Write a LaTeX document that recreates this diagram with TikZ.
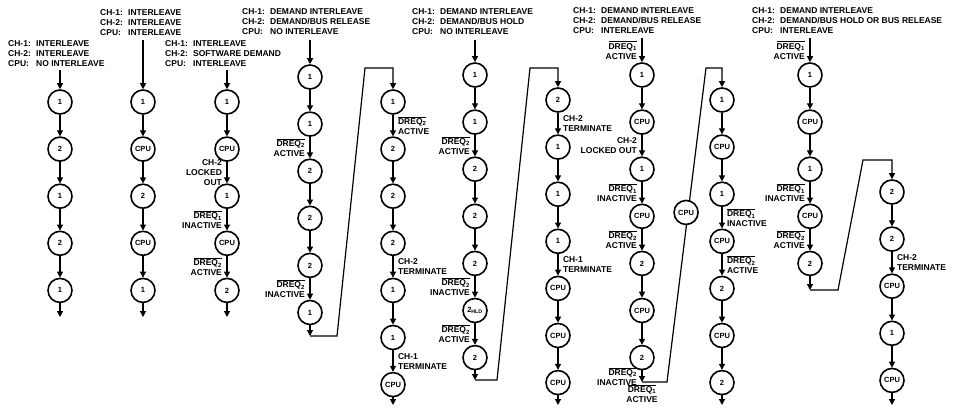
\documentclass[tikz,border=0pt]{standalone}
\usepackage{fontspec}
\setmainfont{Liberation Sans}
\usetikzlibrary{arrows.meta,positioning}

\newcommand{\dreq}[1]{$\overline{\hbox{DREQ\textsubscript{#1}}}$}
\newcommand{\hd}[1]{\makebox[28pt][l]{#1}}

\begin{document}
\begin{tikzpicture}[
  x=1pt, y=-1pt,
  node distance=21.5pt,
  circ/.style={circle, draw, line width=1.6pt, fill=white, minimum size=24pt,
               inner sep=0pt, font=\fontsize{7.5}{8}\selectfont\bfseries},
  head/.style={anchor=north west, inner sep=0pt, align=left,
               font=\fontsize{8.5}{10}\selectfont\bfseries},
  lbl/.style={inner ysep=2.5pt, inner xsep=4.5pt, font=\fontsize{8.5}{10}\selectfont\bfseries},
  flow/.style={->, line width=1.2pt},
  >={Triangle[length=6pt,width=6pt]}
]
  \useasboundingbox (0,0) rectangle (954,408);

  % interleave modes
  \node[head] (headA) at (8,40) {\hd{CH-1:}INTERLEAVE\\\hd{CH-2:}INTERLEAVE\\\hd{CPU:}NO INTERLEAVE};
  \coordinate (a0) at (60,70);
  \node[circ] (a1) at (60,102) {1};
  \node[circ, below=of a1] (a2) {2};
  \node[circ, below=of a2] (a3) {1};
  \node[circ, below=of a3] (a4) {2};
  \node[circ, below=of a4] (a5) {1};
  \coordinate (a6) at (60,317);
  \draw[flow] (a0) -- (a1);
  \draw[flow] (a1) -- (a2);
  \draw[flow] (a2) -- (a3);
  \draw[flow] (a3) -- (a4);
  \draw[flow] (a4) -- (a5);
  \draw[flow] (a5) -- (a6);

  \node[head] (headB) at (100,9) {\hd{CH-1:}INTERLEAVE\\\hd{CH-2:}INTERLEAVE\\\hd{CPU:}INTERLEAVE};
  \coordinate (b0) at (143,40);
  \node[circ] (b1) at (143,102) {1};
  \node[circ, below=of b1] (b2) {CPU};
  \node[circ, below=of b2] (b3) {2};
  \node[circ, below=of b3] (b4) {CPU};
  \node[circ, below=of b4] (b5) {1};
  \coordinate (b6) at (143,317);
  \draw[flow] (b0) -- (b1);
  \draw[flow] (b1) -- (b2);
  \draw[flow] (b2) -- (b3);
  \draw[flow] (b3) -- (b4);
  \draw[flow] (b4) -- (b5);
  \draw[flow] (b5) -- (b6);

  \node[head] (headC) at (165,40) {\hd{CH-1:}INTERLEAVE\\\hd{CH-2:}SOFTWARE DEMAND\\\hd{CPU:}INTERLEAVE};
  \coordinate (c0) at (227,70);
  \node[circ] (c1) at (227,102) {1};
  \node[circ, below=of c1] (c2) {CPU};
  \node[circ, below=of c2] (c3) {1};
  \node[circ, below=of c3] (c4) {CPU};
  \node[circ, below=of c4] (c5) {2};
  \coordinate (c6) at (227,317);
  \draw[flow] (c0) -- (c1);
  \draw[flow] (c1) -- (c2);
  \draw[flow] (c2) -- node[lbl, left, align=right]{CH-2\\LOCKED\\OUT} (c3);
  \draw[flow] (c3) -- node[lbl, left, align=right]{\dreq{1}\\INACTIVE} (c4);
  \draw[flow] (c4) -- node[lbl, left, align=right]{\dreq{2}\\ACTIVE} (c5);
  \draw[flow] (c5) -- (c6);

  % demand, bus release
  \node[head] (headD) at (242,8) {\hd{CH-1:}DEMAND INTERLEAVE\\\hd{CH-2:}DEMAND/BUS RELEASE\\\hd{CPU:}NO INTERLEAVE};
  \coordinate (d0) at (310,40);
  \node[circ] (d1) at (310,77) {1};
  \node[circ, below=of d1] (d2) {1};
  \node[circ, below=of d2] (d3) {2};
  \node[circ, below=of d3] (d4) {2};
  \node[circ, below=of d4] (d5) {2};
  \node[circ, below=of d5] (d6) {1};
  \coordinate (d7) at (310,336);
  \coordinate (dturn) at (337,336);
  \coordinate (dtop) at (365,68);
  \draw[flow] (d0) -- (d1);
  \draw[flow] (d1) -- (d2);
  \draw[flow] (d2) -- node[lbl, left, align=right]{\dreq{2}\\ACTIVE} (d3);
  \draw[flow] (d3) -- (d4);
  \draw[flow] (d4) -- (d5);
  \draw[flow] (d5) -- node[lbl, left, align=right]{\dreq{2}\\INACTIVE} (d6);
  \draw[flow] (d6) -- (d7);

  \node[circ] (e1) at (393,102) {1};
  \node[circ, below=of e1] (e2) {2};
  \node[circ, below=of e2] (e3) {2};
  \node[circ, below=of e3] (e4) {2};
  \node[circ, below=of e4] (e5) {1};
  \node[circ, below=of e5] (e6) {1};
  \node[circ, below=of e6] (e7) {CPU};
  \coordinate (e8) at (393,405);
  \draw[flow] (d7) -- (dturn) -- (dtop) -| (e1);
  \draw[flow] (e1) -- node[lbl, right, align=left]{\dreq{2}\\ACTIVE} (e2);
  \draw[flow] (e2) -- (e3);
  \draw[flow] (e3) -- (e4);
  \draw[flow] (e4) -- node[lbl, right, align=left]{CH-2\\TERMINATE} (e5);
  \draw[flow] (e5) -- (e6);
  \draw[flow] (e6) -- node[lbl, right, align=left]{CH-1\\TERMINATE} (e7);
  \draw[flow] (e7) -- (e8);

  % demand, bus hold
  \node[head] (headF) at (412,8) {\hd{CH-1:}DEMAND INTERLEAVE\\\hd{CH-2:}DEMAND/BUS HOLD\\\hd{CPU:}NO INTERLEAVE};
  \coordinate (f0) at (475,40);
  \node[circ] (f1) at (475,75) {1};
  \node[circ, below=of f1] (f2) {1};
  \node[circ, below=of f2] (f3) {2};
  \node[circ, below=of f3] (f4) {2};
  \node[circ, below=of f4] (f5) {2};
  \node[circ, below=of f5] (f6) {2\textsubscript{HLD}};
  \node[circ, below=of f6] (f7) {2};
  \coordinate (f8) at (475,380);
  \coordinate (fturn) at (497,380);
  \coordinate (ftop) at (530,68);
  \draw[flow] (f0) -- (f1);
  \draw[flow] (f1) -- (f2);
  \draw[flow] (f2) -- node[lbl, left, align=right]{\dreq{2}\\ACTIVE} (f3);
  \draw[flow] (f3) -- (f4);
  \draw[flow] (f4) -- (f5);
  \draw[flow] (f5) -- node[lbl, left, align=right]{\dreq{2}\\INACTIVE} (f6);
  \draw[flow] (f6) -- node[lbl, left, align=right]{\dreq{2}\\ACTIVE} (f7);
  \draw[flow] (f7) -- (f8);

  \node[circ] (g1) at (558,100) {2};
  \node[circ, below=of g1] (g2) {1};
  \node[circ, below=of g2] (g3) {1};
  \node[circ, below=of g3] (g4) {1};
  \node[circ, below=of g4] (g5) {CPU};
  \node[circ, below=of g5] (g6) {CPU};
  \node[circ, below=of g6] (g7) {CPU};
  \coordinate (g8) at (558,405);
  \draw[flow] (f8) -- (fturn) -- (ftop) -| (g1);
  \draw[flow] (g1) -- node[lbl, right, align=left]{CH-2\\TERMINATE} (g2);
  \draw[flow] (g2) -- (g3);
  \draw[flow] (g3) -- (g4);
  \draw[flow] (g4) -- node[lbl, right, align=left]{CH-1\\TERMINATE} (g5);
  \draw[flow] (g5) -- (g6);
  \draw[flow] (g6) -- (g7);
  \draw[flow] (g7) -- (g8);

  % demand with CPU interleave
  \node[head] (headH) at (573,7) {\hd{CH-1:}DEMAND INTERLEAVE\\\hd{CH-2:}DEMAND/BUS RELEASE\\\hd{CPU:}INTERLEAVE};
  \coordinate (h0) at (642,38);
  \node[circ] (h1) at (642,75) {1};
  \node[circ, below=of h1] (h2) {CPU};
  \node[circ, below=of h2] (h3) {1};
  \node[circ, below=of h3] (h4) {CPU};
  \node[circ, below=of h4] (h5) {2};
  \node[circ, below=of h5] (h6) {CPU};
  \node[circ, below=of h6] (h7) {2};
  \coordinate (h8) at (642,382);
  \coordinate (hturn) at (667,382);
  \coordinate (htop) at (706,68);
  \draw[flow] (h0) -- node[lbl, left, align=right]{\dreq{1}\\ACTIVE} (h1);
  \draw[flow] (h1) -- (h2);
  \draw[flow] (h2) -- node[lbl, left, align=right]{CH-2\\LOCKED OUT} (h3);
  \draw[flow] (h3) -- node[lbl, left, align=right]{\dreq{1}\\INACTIVE} (h4);
  \draw[flow] (h4) -- node[lbl, left, align=right]{\dreq{2}\\ACTIVE} (h5);
  \draw[flow] (h5) -- (h6);
  \draw[flow] (h6) -- (h7);
  \draw[flow] (h7) -- node[lbl, left, align=right]{\dreq{2}\\INACTIVE} (h8);
  \node[lbl, below=0pt of h8, align=center] (hnote) {\dreq{1}\\ACTIVE};

  \node[circ] (i1) at (722,100) {1};
  \node[circ, below=of i1] (i2) {CPU};
  \node[circ, below=of i2] (i3) {1};
  \node[circ, below=of i3] (i4) {CPU};
  \node[circ, below=of i4] (i5) {2};
  \node[circ, below=of i5] (i6) {CPU};
  \node[circ, below=of i6] (i7) {2};
  \coordinate (i8) at (722,405);
  \draw[flow] (h8) -- (hturn) -- node[circ, pos=0.54, xshift=-2pt] (hcpu) {CPU} (htop) -| (i1);
  \draw[flow] (i1) -- (i2);
  \draw[flow] (i2) -- (i3);
  \draw[flow] (i3) -- node[lbl, right, align=left]{\dreq{1}\\INACTIVE} (i4);
  \draw[flow] (i4) -- node[lbl, right, align=left]{\dreq{2}\\ACTIVE} (i5);
  \draw[flow] (i5) -- (i6);
  \draw[flow] (i6) -- (i7);
  \draw[flow] (i7) -- (i8);

  % demand, hold or release
  \node[head] (headJ) at (752,7) {\hd{CH-1:}DEMAND INTERLEAVE\\\hd{CH-2:}DEMAND/BUS HOLD OR BUS RELEASE\\\hd{CPU:}INTERLEAVE};
  \coordinate (j0) at (810,38);
  \node[circ] (j1) at (810,75) {1};
  \node[circ, below=of j1] (j2) {CPU};
  \node[circ, below=of j2] (j3) {1};
  \node[circ, below=of j3] (j4) {CPU};
  \node[circ, below=of j4] (j5) {2};
  \coordinate (j6) at (810,290);
  \coordinate (jturn) at (838,290);
  \coordinate (jtop) at (863,160);
  \draw[flow] (j0) -- node[lbl, left, align=right]{\dreq{1}\\ACTIVE} (j1);
  \draw[flow] (j1) -- (j2);
  \draw[flow] (j2) -- (j3);
  \draw[flow] (j3) -- node[lbl, left, align=right]{\dreq{1}\\INACTIVE} (j4);
  \draw[flow] (j4) -- node[lbl, left, align=right]{\dreq{2}\\ACTIVE} (j5);
  \draw[flow] (j5) -- (j6);

  \node[circ] (k1) at (892,192) {2};
  \node[circ, below=of k1] (k2) {2};
  \node[circ, below=of k2] (k3) {CPU};
  \node[circ, below=of k3] (k4) {1};
  \node[circ, below=of k4] (k5) {CPU};
  \coordinate (k6) at (892,405);
  \draw[flow] (j6) -- (jturn) -- (jtop) -| (k1);
  \draw[flow] (k1) -- (k2);
  \draw[flow] (k2) -- node[lbl, right, align=left]{CH-2\\TERMINATE} (k3);
  \draw[flow] (k3) -- (k4);
  \draw[flow] (k4) -- (k5);
  \draw[flow] (k5) -- (k6);
\end{tikzpicture}
\end{document}
